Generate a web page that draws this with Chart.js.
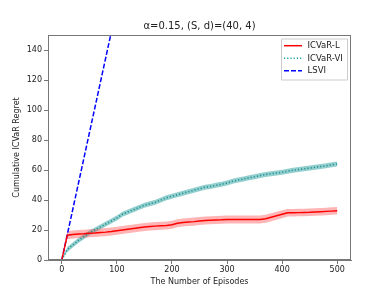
<!DOCTYPE html>
<html>
<head>
<meta charset="utf-8">
<script src="https://cdn.jsdelivr.net/npm/chart.js@4"></script>
<style>
  html, body { margin: 0; padding: 0; background: #fff; }
  #wrap { width: 390px; height: 293px; }
</style>
</head>
<body>
<div id="wrap"><canvas id="regretChart" width="390" height="293"></canvas></div>
<script>
// episodes sampled every 10
const episodes = [0, 10, 20, 30, 40, 50, 60, 70, 80, 90, 100, 110, 120, 130, 140, 150, 160, 170, 180, 190, 200,
    210, 220, 230, 240, 250, 260, 270, 280, 290, 300, 310, 320, 330, 340, 350, 360, 370, 380, 390, 400,
    410, 420, 430, 440, 450, 460, 470, 480, 490, 500];

const icvarL = [0, 16.5, 17, 17.3, 17.5, 17.8, 18, 18.3, 18.6, 19, 19.5, 20, 20.5, 21, 21.5, 22, 22.3, 22.6, 22.8, 23, 23.5,
    24.5, 25, 25.3, 25.6, 26, 26.3, 26.5, 26.7, 26.8, 27, 27, 27, 27, 27, 27, 27, 27.5, 28.5, 29.5, 30.5,
    31.5, 31.5, 31.6, 31.7, 31.8, 32, 32.2, 32.4, 32.6, 32.8];
const icvarLSpread = [0, 2.7, 2.7, 2.7, 2.7, 2.7, 2.7, 2.7, 2.7, 2.7, 2.7, 2.7, 2.7, 2.7, 2.7, 2.7, 2.7, 2.7, 2.7, 2.7, 2.7,
    2.7, 2.7, 2.7, 2.7, 2.7, 2.7, 2.7, 2.7, 2.7, 2.7, 2.7, 2.7, 2.7, 2.7, 2.7, 2.7, 2.7, 2.7, 2.7, 2.7,
    2.5, 2.5, 2.5, 2.5, 2.5, 2.5, 2.5, 2.5, 2.5, 2.5];

const icvarVI = [0, 7, 10, 13, 15.5, 18, 20, 22, 24, 26, 28, 30.5, 32, 33.5, 35, 36.5, 37.5, 38.5, 40, 41.5, 42.5,
    43.5, 44.5, 45.5, 46.5, 47.5, 48.5, 49, 49.8, 50.5, 51.3, 52.5, 53.3, 54, 54.8, 55.5, 56.3, 57, 57.5, 58, 58.5,
    59.2, 59.8, 60.3, 60.8, 61.3, 61.8, 62.3, 62.8, 63.5, 64];
const icvarVISpread = [0, 1.7, 1.7, 1.7, 1.7, 1.7, 1.7, 1.7, 1.7, 1.7, 1.7, 1.7, 1.7, 1.7, 1.7, 1.7, 1.7, 1.7, 1.7, 1.7, 1.7,
    1.7, 1.7, 1.7, 1.7, 1.7, 1.7, 1.7, 1.7, 1.7, 1.7, 1.7, 1.7, 1.7, 1.7, 1.7, 1.7, 1.7, 1.7, 1.7, 1.7,
    1.7, 1.7, 1.7, 1.7, 1.7, 1.7, 1.7, 1.7, 1.7, 1.7];

const lsviEpisodes = [0, 100, 200, 300, 400, 500];
const lsvi = [0, 169, 339, 508, 678, 847];

const xTicks = [0, 100, 200, 300, 400, 500];
const yTicks = [0, 20, 40, 60, 80, 100, 120, 140];

const titleText = 'α=0.15, (S, d)=(40, 4)';
const legendNames = ['ICVaR-L', 'ICVaR-VI', 'LSVI'];

const FONT = 'DejaVu Sans';
const AXIS = '#777';

function pts(xs, ys) {
    return xs.map((x, i) => ({ x: x, y: ys[i] }));
}
function shifted(xs, ys, spread, sign) {
    return xs.map((x, i) => ({ x: x, y: ys[i] + sign * spread[i] }));
}

// frame, title and in-plot legend
const framePlugin = {
    id: 'frame',
    afterDraw(chart) {
        const { ctx, chartArea: a } = chart;
        ctx.save();
        ctx.strokeStyle = AXIS;
        ctx.lineWidth = 1;
        ctx.strokeRect(a.left + 0.5, a.top + 0.5, a.right - a.left - 1, a.bottom - a.top - 1);

        ctx.fillStyle = '#222';
        ctx.font = '10px "' + FONT + '"';
        ctx.textAlign = 'center';
        ctx.textBaseline = 'middle';
        ctx.fillText(titleText, (a.left + a.right) / 2, 26);

        // legend box
        const bx = 281, by = 38.5, bw = 66, bh = 41;
        ctx.fillStyle = 'rgba(255,255,255,0.8)';
        ctx.strokeStyle = '#ccc';
        ctx.lineWidth = 1;
        ctx.beginPath();
        ctx.rect(bx + 0.5, by + 0.5, bw, bh);
        ctx.fill();
        ctx.stroke();
        const styles = [
            { color: '#ff0000', dash: [], width: 1.5 },
            { color: '#1a9c9c', dash: [1.2, 2], width: 1.5 },
            { color: '#0000ff', dash: [5, 2], width: 1.5 }
        ];
        ctx.font = '8.5px "' + FONT + '"';
        ctx.textAlign = 'left';
        legendNames.forEach((name, i) => {
            const y = 45.7 + i * 12.5;
            ctx.strokeStyle = styles[i].color;
            ctx.lineWidth = styles[i].width;
            ctx.setLineDash(styles[i].dash);
            ctx.beginPath();
            ctx.moveTo(284, y);
            ctx.lineTo(302, y);
            ctx.stroke();
            ctx.setLineDash([]);
            ctx.fillStyle = '#222';
            ctx.fillText(name, 307.5, y + 0.5);
        });
        ctx.restore();
    }
};

const ctx = document.getElementById('regretChart').getContext('2d');
const regretChart = new Chart(ctx, {
    type: 'line',
    data: {
        datasets: [
            {
                label: 'ICVaR-L',
                data: pts(episodes, icvarL),
                borderColor: '#ff0000',
                borderWidth: 1.4,
                pointRadius: 0,
                fill: false
            },
            {
                label: 'ICVaR-VI',
                data: pts(episodes, icvarVI),
                borderColor: '#24908f',
                borderWidth: 1.6,
                borderDash: [1.2, 2],
                pointRadius: 0,
                fill: false
            },
            {
                label: 'LSVI',
                data: pts(lsviEpisodes, lsvi),
                borderColor: '#0000ff',
                borderWidth: 1.5,
                borderDash: [5, 2],
                pointRadius: 0,
                fill: false
            },
            {
                label: 'L low',
                data: shifted(episodes, icvarL, icvarLSpread, -1),
                borderWidth: 0,
                pointRadius: 0,
                fill: false
            },
            {
                label: 'L high',
                data: shifted(episodes, icvarL, icvarLSpread, 1),
                borderWidth: 0,
                pointRadius: 0,
                backgroundColor: 'rgba(255, 60, 60, 0.38)',
                fill: 3
            },
            {
                label: 'VI low',
                data: shifted(episodes, icvarVI, icvarVISpread, -1),
                borderWidth: 0,
                pointRadius: 0,
                fill: false
            },
            {
                label: 'VI high',
                data: shifted(episodes, icvarVI, icvarVISpread, 1),
                borderWidth: 0,
                pointRadius: 0,
                backgroundColor: 'rgba(40, 160, 160, 0.5)',
                fill: 5
            }
        ]
    },
    options: {
        responsive: false,
        animation: false,
        layout: { padding: { top: 35, right: 39, left: 0, bottom: 0 } },
        plugins: {
            legend: { display: false },
            tooltip: { enabled: false }
        },
        scales: {
            x: {
                type: 'linear',
                min: -25,
                max: 525,
                afterBuildTicks: s => { s.ticks = xTicks.map(v => ({ value: v })); },
                afterFit: s => { s.height = 33; },
                grid: { drawOnChartArea: false, tickLength: 4, color: AXIS },
                border: { color: AXIS },
                ticks: { color: '#222', padding: 1, maxRotation: 0, font: { family: FONT, size: 8 } },
                title: { display: true, text: 'The Number of Episodes', color: '#222', padding: { top: 0, bottom: 6 }, font: { family: FONT, size: 8 } }
            },
            y: {
                min: 0,
                max: 150,
                afterBuildTicks: s => { s.ticks = yTicks.map(v => ({ value: v })); },
                afterFit: s => { s.width = 48; },
                grid: { drawOnChartArea: false, tickLength: 4, color: AXIS },
                border: { color: AXIS },
                ticks: { color: '#222', padding: 2, font: { family: FONT, size: 8 } },
                title: { display: true, text: 'Cumulative ICVaR Regret', color: '#222', padding: { top: 12, bottom: 0 }, font: { family: FONT, size: 8 } }
            }
        }
    },
    plugins: [framePlugin]
});
</script>
</body>
</html>
